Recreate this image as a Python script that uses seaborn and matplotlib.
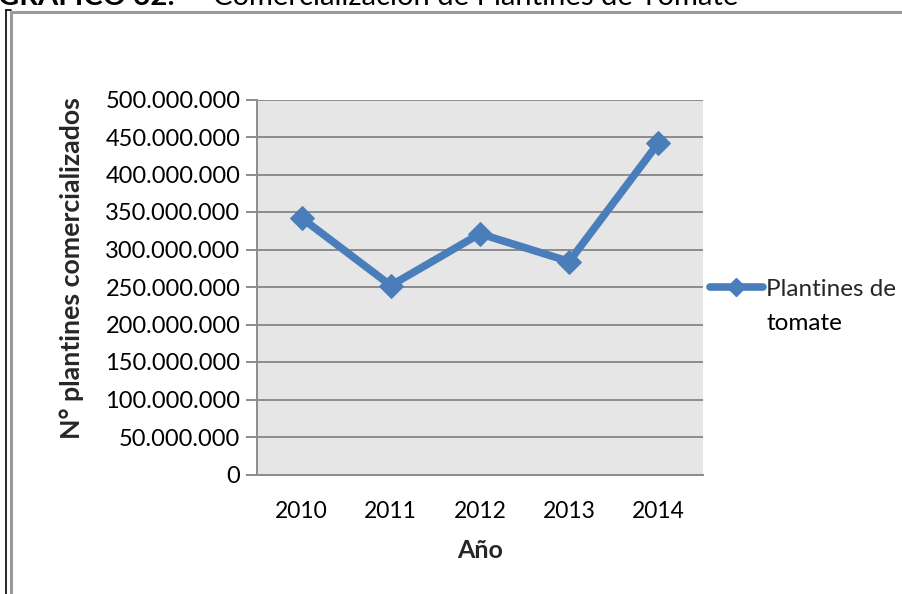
import matplotlib
matplotlib.use("Agg")
import matplotlib.pyplot as plt
import seaborn as sns
import pandas as pd
from matplotlib.lines import Line2D
from matplotlib.ticker import FuncFormatter

years = ["2010", "2011", "2012", "2013", "2014"]
plantines = [342000000, 252000000, 321000000, 284000000, 442000000]
series_name_lines = ["Plantines de", "tomate"]
y_ticks = [0, 50000000, 100000000, 150000000, 200000000, 250000000,
           300000000, 350000000, 400000000, 450000000, 500000000]
title_bold = "GRÁFICO 32:"
title_rest = "Comercialización de Plantines de Tomate"

df = pd.DataFrame({"Año": years, "valor": plantines})

sns.set_theme(style="white")
plt.rcParams['font.family'] = ['Lato', 'DejaVu Sans']

W, H = 903, 594
fig = plt.figure(figsize=(W / 100, H / 100), dpi=100)
ax = fig.add_axes([257 / W, 1 - 474.5 / H, (703 - 257) / W, (474.5 - 99.5) / H])
ax.set_facecolor("#e6e6e6")

color = "#4a7ebb"
sns.lineplot(data=df, x="Año", y="valor", ax=ax, color=color, linewidth=5.5,
             marker="D", markersize=12, markeredgecolor=color, sort=False,
             legend=False)

ax.set_xlim(-0.5, len(years) - 0.5)
ax.set_ylim(0, 500000000)
ax.set_yticks(y_ticks)
ax.yaxis.set_major_formatter(FuncFormatter(lambda v, p: f"{int(v):,}".replace(",", ".")))
ax.grid(axis="y", color="#8c8c8c", linewidth=1.4)
ax.grid(axis="x", visible=False)
ax.set_axisbelow(True)
for s in ["top", "right"]:
    ax.spines[s].set_visible(False)
ax.spines["left"].set_color("#8c8c8c")
ax.spines["left"].set_linewidth(1.4)
ax.spines["bottom"].set_color("#8c8c8c")
ax.spines["bottom"].set_linewidth(1.4)
ax.tick_params(axis="y", which="both", left=True, length=8, width=1.4,
               color="#8c8c8c", labelsize=17, pad=4, labelcolor="black")
ax.tick_params(axis="x", bottom=False, labelsize=16.5, pad=13, labelcolor="black")

ax.set_xlabel("Año", fontsize=18, fontweight="bold", labelpad=12)
ax.set_ylabel("N° plantines comercializados", fontsize=19.3, fontweight="bold")
ax.yaxis.set_label_coords((84 - 257) / 446, (474.5 - 268) / 375)

handle = Line2D([0], [0], color=color, linewidth=5.5, marker="D", markersize=9,
                markeredgecolor=color)
leg = fig.legend([handle], [series_name_lines[0]], loc="center left",
                 bbox_to_anchor=(706 / W, 1 - 289 / H), frameon=False, fontsize=17.5,
                 handlelength=2.2, handletextpad=0.12, borderaxespad=0.0,
                 borderpad=0.15)

fig.canvas.draw()
tb = leg.get_texts()[0].get_window_extent()
fig.text(tb.x0 / W, (tb.y0 - 34) / H, series_name_lines[1], fontsize=17.5,
         ha="left", va="bottom", color="black")

# frame of the chart container
fig.add_artist(Line2D([5.5 / W, 5.5 / W], [0, 1 - 10 / H], color="black",
                      linewidth=1.2, transform=fig.transFigure))
fig.add_artist(Line2D([5.5 / W, 11 / W], [1 - 10 / H, 1 - 10 / H], color="black",
                      linewidth=1.2, transform=fig.transFigure))
fig.add_artist(Line2D([11 / W, 11 / W], [0, 1 - 11.5 / H], color="#9a9a9a",
                      linewidth=2.2, transform=fig.transFigure))
fig.add_artist(Line2D([11 / W, 1], [1 - 11.5 / H, 1 - 11.5 / H], color="#9a9a9a",
                      linewidth=2.2, transform=fig.transFigure))

# title cut off at the top
fig.text(-2 / W, 1 - 5 / H, title_bold, fontsize=21, fontweight="bold",
         va="baseline", ha="left", color="black")
fig.text(213 / W, 1 - 5 / H, title_rest,
         fontsize=21, va="baseline", ha="left", color="black")

fig.savefig("out.png", dpi=100, facecolor="white")
